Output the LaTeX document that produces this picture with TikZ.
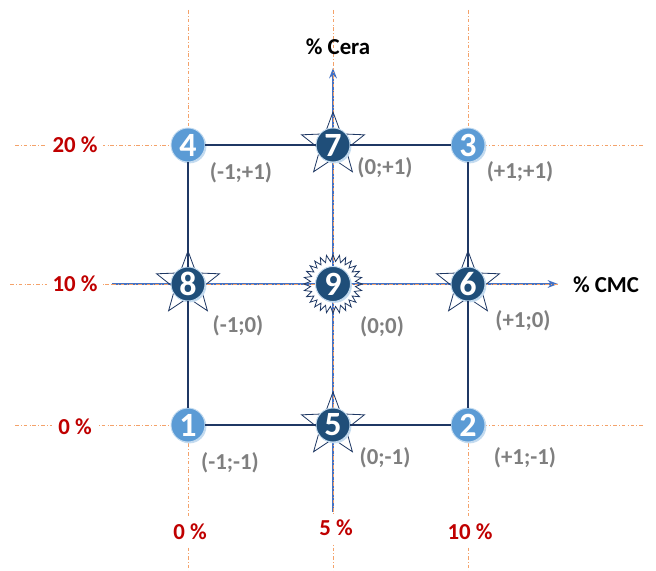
\documentclass[tikz,border=0pt]{standalone}
\usepackage{fontspec}
\setmainfont{Carlito}
\usetikzlibrary{arrows.meta,shapes.geometric,shadows}
\definecolor{navy}{HTML}{1F3864}
\definecolor{deep}{HTML}{1F4E79}
\definecolor{sky}{HTML}{5B9BD5}
\definecolor{skylite}{HTML}{C5DCF0}
\definecolor{axisblue}{HTML}{4472C4}
\definecolor{guide}{HTML}{F4A26A}
\definecolor{levelred}{HTML}{C00000}
\definecolor{coordgray}{HTML}{7F7F7F}

\begin{document}
\begin{tikzpicture}[x=0.03cm,y=-0.03cm,>=Stealth,
    corner/.style={circle,fill=sky,draw=skylite,line width=0.8pt,minimum size=1.02cm,inner sep=0pt,text=white,
      font=\bfseries\fontsize{29}{29}\selectfont,drop shadow={shadow xshift=1.2pt,shadow yshift=-1.2pt,fill=skylite,opacity=1}},
    axial/.style={corner,fill=deep},
    starbox/.style={star,star points=5,star point ratio=2.4,minimum size=1.98cm,inner sep=0pt,draw=navy,line width=0.7pt},
    burst/.style={star,star points=28,star point ratio=1.3,minimum size=1.76cm,inner sep=0pt,draw=navy,line width=0.7pt},
    coordlbl/.style={text=coordgray,font=\bfseries\fontsize{19.5}{20}\selectfont},
    level/.style={fill=white,text=levelred,font=\bfseries\fontsize{19.5}{20}\selectfont,inner sep=5pt},
    axislbl/.style={font=\bfseries\fontsize{19.5}{20}\selectfont},
    guideline/.style={guide,dash dot,line width=0.8pt}]
  \useasboundingbox (0,0) rectangle (656,571);
  % guide lines of the levels
  \foreach \x in {188,333,468}{\draw[guideline] (\x,10) -- (\x,571);}
  \foreach \y in {145,425}{\draw[guideline] (15,\y) -- (645,\y);}
  \draw[guideline] (10,284) -- (112,284);
  % axes
  \coordinate (cmcstart) at (112,284);
  \coordinate (cmcend) at (558,284);
  \coordinate (cerastart) at (333,512);
  \coordinate (ceraend) at (333,68);
  \draw[axisblue,line width=1.3pt,->] (cmcstart) -- (cmcend);
  \draw[axisblue,line width=1.3pt,->] (cerastart) -- (ceraend);
  \draw[guide,dash dot,line width=0.5pt] (cmcstart) -- (cmcend);
  \draw[guide,dash dot,line width=0.5pt] (cerastart) -- (ceraend);
  \node[axislbl] (cera) at (338,47) {\% Cera};
  \node[axislbl] (cmc) at (606,285) {\% CMC};
  % stars behind the axial points
  \node[starbox] (s7) at (333,145) {};
  \node[starbox] (s8) at (188,284) {};
  \node[starbox] (s6) at (468,284) {};
  \node[starbox] (s5) at (333,425) {};
  \node[burst] (s9) at (333,284) {};
  % design points
  \node[corner] (p1) at (188,425) {1};
  \node[corner] (p2) at (468,425) {2};
  \node[corner] (p3) at (468,145) {3};
  \node[corner] (p4) at (188,145) {4};
  \node[axial] (p5) at (333,425) {5};
  \node[axial] (p6) at (468,284) {6};
  \node[axial] (p7) at (333,145) {7};
  \node[axial] (p8) at (188,284) {8};
  \node[axial,minimum size=1.05cm] (p9) at (333,284) {9};
  \foreach \u/\vv in {p4/p7,p7/p3,p3/p6,p6/p2,p2/p5,p5/p1,p1/p8,p8/p4}{\draw[navy,line width=1.6pt] (\u) -- (\vv);}
  % coded levels
  \node[coordlbl] (c4) at (241,173) {(-1;+1)};
  \node[coordlbl] (c7) at (385,168) {(0;+1)};
  \node[coordlbl] (c3) at (520,172) {(+1;+1)};
  \node[coordlbl] (c8) at (238,326) {(-1;0)};
  \node[coordlbl] (c9) at (382,327) {(0;0)};
  \node[coordlbl] (c6) at (523,321) {(+1;0)};
  \node[coordlbl] (c1) at (230,463) {(-1;-1)};
  \node[coordlbl] (c5) at (385,458) {(0;-1)};
  \node[coordlbl] (c2) at (525,458) {(+1;-1)};
  % real levels
  \node[level] (w20) at (75,145) {20 \%};
  \node[level] (w10) at (75,284) {10 \%};
  \node[level] (w0) at (75,427) {0 \%};
  \node[level] (m0) at (190,532) {0 \%};
  \node[level] (m5) at (336,528) {5 \%};
  \node[level] (m10) at (470,532) {10 \%};
\end{tikzpicture}
\end{document}
